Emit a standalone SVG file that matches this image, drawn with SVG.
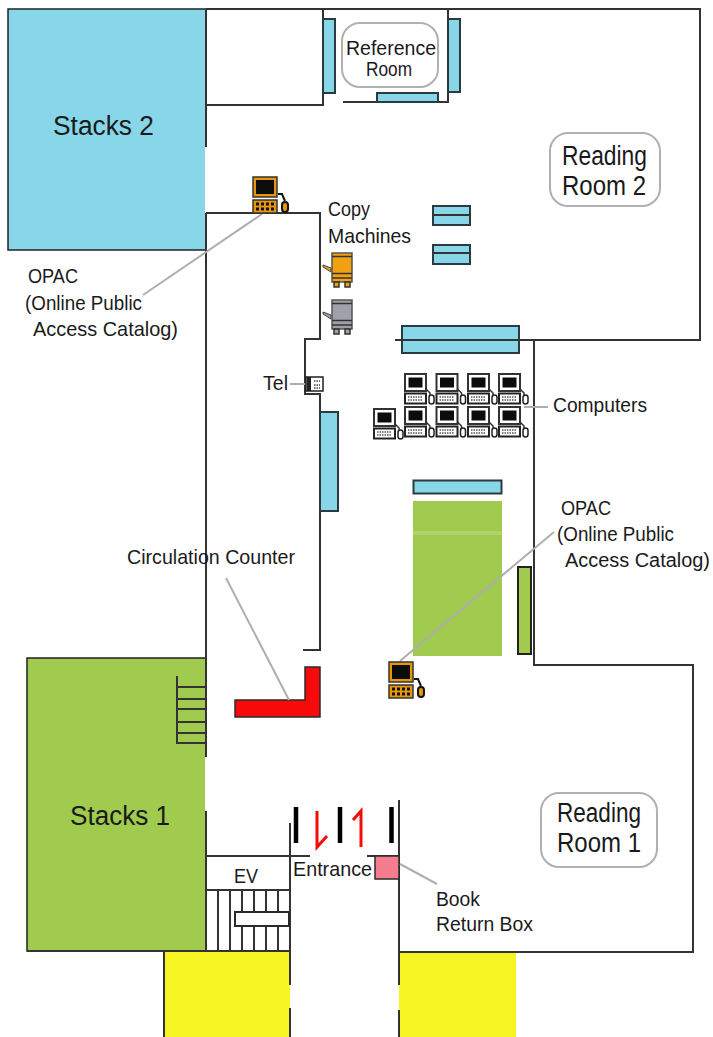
<svg xmlns="http://www.w3.org/2000/svg" xmlns:xlink="http://www.w3.org/1999/xlink" width="713" height="1037" viewBox="0 0 713 1037">
<style>
.w{fill:none;stroke:#333;stroke-width:2}
.b{fill:#87d7e8;stroke:#2b3a40;stroke-width:2}
.g{fill:#a0cb4e}
.y{fill:#f6f523}
.l{fill:none;stroke:#aeaeae;stroke-width:2}
.n{fill:none;stroke:#b0b0b0;stroke-width:2}
text{font-family:"Liberation Sans",Arial,sans-serif;fill:#1a1a1a}
.m{font-size:27px}
.h{font-size:21px}
.a{font-size:20px}
</style>
<defs>
<g id="pcO">
<rect x="1" y="1" width="24" height="20" fill="#e8960c" stroke="#333" stroke-width="1.500"/>
<rect x="4" y="4" width="18" height="14" fill="#0c0c0c"/>
<rect x="1" y="24" width="24" height="13" fill="#e8960c" stroke="#333" stroke-width="1.500"/>
<g fill="#111"><rect x="4" y="26.500" width="3" height="3"/><rect x="9" y="26.500" width="3" height="3"/><rect x="14" y="26.500" width="3" height="3"/><rect x="19" y="26.500" width="3" height="3"/><rect x="4" y="31.500" width="3" height="3"/><rect x="9" y="31.500" width="3" height="3"/><rect x="14" y="31.500" width="3" height="3"/><rect x="19" y="31.500" width="3" height="3"/></g>
<path d="M26 18h4l3 7" fill="none" stroke="#111" stroke-width="2"/>
<rect x="30" y="26" width="6" height="10" rx="3" fill="#e8960c" stroke="#111" stroke-width="2"/>
</g>
<g id="pcW">
<rect x="1" y="1" width="21" height="17" fill="#fff" stroke="#333" stroke-width="2"/>
<rect x="4.500" y="4.500" width="14" height="10" fill="#0c0c0c"/>
<rect x="1" y="20.500" width="21" height="10" fill="#fff" stroke="#222" stroke-width="2"/>
<path d="M4 24h15M4 27h15" stroke="#555" stroke-width="1.500" stroke-dasharray="1.500 1"/>
<path d="M22 16l4 4v2" fill="none" stroke="#333" stroke-width="1.500"/>
<rect x="25" y="22" width="5" height="9" rx="2.500" fill="#fff" stroke="#222" stroke-width="1.500"/>
</g>
<g id="copier">
<path d="M0 13l8 3v4l-8-5z" stroke="#444" stroke-width="1"/>
<rect x="9" y="1" width="20" height="29" stroke="#555" stroke-width="1.500"/>
<path d="M9 4.500h20M9 21.500h20M9 26h20" stroke="#333" stroke-width="1.500" fill="none"/>
<rect x="11" y="30" width="5" height="5" stroke="#333" stroke-width="1.500"/>
<rect x="22" y="30" width="5" height="5" stroke="#333" stroke-width="1.500"/>
</g>
</defs>

<g id="stacks-2"><rect x="8" y="9" width="198" height="241" fill="#87d7e8" stroke="#222" stroke-width="1.500"/><text class="m" x="53" y="135" textLength="101" lengthAdjust="spacingAndGlyphs">Stacks 2</text></g>
<g id="stacks-1"><rect x="27" y="658" width="179" height="293" class="g" stroke="#222" stroke-width="1.500"/><text class="m" x="70" y="825" textLength="100" lengthAdjust="spacingAndGlyphs">Stacks 1</text></g>
<g id="parking-left"><rect x="164" y="951" width="126" height="86" class="y"/></g>
<g id="parking-right"><rect x="399" y="952" width="117" height="85" class="y"/></g>
<g id="white-gaps"><rect x="205" y="147" width="2.500" height="66" fill="#fff"/><rect x="205" y="757" width="2.500" height="54" fill="#fff"/></g>

<g id="walls">
<path class="w" d="M206 9H700V340H534V665H693V952H399"/>
<path class="w" d="M206 9V147M206 213V757M206 811V951"/>
<path class="w" d="M206 105H323V9"/>
<path class="w" d="M448 9V102H343"/>
<path class="w" d="M206 213H320V339H305V394H320V650H303"/>
<path class="w" d="M27 951H290M164 951V1037"/>
<path class="w" d="M290 823V985M290 1008V1037M399 800V985M399 1010V1037"/>
<path class="w" d="M206 856H310M367 856H399M206 890H290"/>
<path class="w" d="M218 890V951M230 890V951M242 890V951M254 890V951M266 890V951M278 890V951"/>
<path class="w" d="M177 676V743H206M177 687H206M177 699H206M177 709H206M177 722H206M177 733H206"/>
<path d="M296 807V843M340 807V843M391.500 807V843" stroke="#000" stroke-width="4.500" fill="none"/>
</g>

<g id="shelves">
<rect class="b" x="323" y="19" width="12" height="74"/>
<rect class="b" x="448" y="19" width="12" height="73"/>
<rect class="b" x="377" y="93" width="61" height="9"/>
<rect class="b" x="433" y="206" width="37" height="19"/><path class="w" d="M433 215H470"/>
<rect class="b" x="433" y="245" width="37" height="19"/><path class="w" d="M433 253H470"/>
<rect class="b" x="402" y="326" width="117" height="27"/><path class="w" d="M395 340H534"/>
<rect class="b" x="320" y="412" width="18" height="99"/>
<rect class="b" x="413.500" y="480.500" width="88" height="13"/>
<rect class="g" x="413" y="501" width="89" height="155"/><path d="M413 533H502" stroke="#b2d26c" stroke-width="4"/>
<rect class="g" x="518" y="567" width="13" height="87" stroke="#222" stroke-width="2"/>
</g>

<g id="reference-room"><rect class="n" x="342" y="23" width="96" height="64" rx="18"/><text class="h" x="346" y="55" textLength="90" lengthAdjust="spacingAndGlyphs">Reference</text><text class="h" x="366" y="76" textLength="46" lengthAdjust="spacingAndGlyphs">Room</text></g>
<g id="reading-room-2"><rect class="n" x="550" y="133" width="110" height="73" rx="18"/><text class="m" x="562" y="165" textLength="85" lengthAdjust="spacingAndGlyphs">Reading</text><text class="m" x="562" y="195" textLength="84" lengthAdjust="spacingAndGlyphs">Room 2</text></g>
<g id="reading-room-1"><rect class="n" x="541" y="793" width="116" height="74" rx="18"/><text class="m" x="557" y="822" textLength="84" lengthAdjust="spacingAndGlyphs">Reading</text><text class="m" x="557" y="852" textLength="84" lengthAdjust="spacingAndGlyphs">Room 1</text></g>

<g id="counter"><path d="M305 667H320V717H235V700H305Z" fill="#f60a0a" stroke="#2b2b2b" stroke-width="1.500"/></g>
<g id="book-return"><rect x="375" y="856" width="24" height="23" fill="#f67d8e" stroke="#2b2b2b" stroke-width="1.500"/></g>
<g id="elevator"><rect x="235" y="912" width="54" height="14" fill="#fff" stroke="#2b2b2b" stroke-width="2"/><text class="h" x="234" y="883" textLength="24" lengthAdjust="spacingAndGlyphs">EV</text></g>

<g id="connectors">
<path class="l" d="M262 214L143 295"/>
<path class="l" d="M226 578L289 700"/>
<path class="l" d="M554 532L400 661"/>
<path class="l" d="M290 384H305"/>
<path class="l" d="M524 407H548"/>
<path class="l" d="M400 864L437 884"/>
<path d="M317 811V847L327 836M361 847V811L353 820" fill="none" stroke="#f60a0a" stroke-width="3"/>
</g>

<g id="opac-1"><use xlink:href="#pcO" x="252" y="176"/></g>
<g id="opac-2"><use xlink:href="#pcO" x="388" y="661"/></g>
<g id="computers">
<use xlink:href="#pcW" x="404" y="373"/><use xlink:href="#pcW" x="435.500" y="373"/><use xlink:href="#pcW" x="467" y="373"/><use xlink:href="#pcW" x="498" y="373"/>
<use xlink:href="#pcW" x="404" y="406"/><use xlink:href="#pcW" x="435.500" y="406"/><use xlink:href="#pcW" x="467" y="406"/><use xlink:href="#pcW" x="498" y="406"/>
<use xlink:href="#pcW" x="373" y="408"/>
</g>
<g id="copier-1"><use xlink:href="#copier" x="323" y="252" fill="#f0a010"/></g>
<g id="copier-2"><use xlink:href="#copier" x="323" y="299" fill="#a0a0a8"/></g>
<g id="tel"><rect x="306" y="377" width="17" height="14" fill="#fff" stroke="#222" stroke-width="1.500"/><rect x="307" y="377" width="4" height="14" fill="#222"/><path d="M314 381h6M314 385h6M314 388h6" stroke="#444" stroke-width="1.500" stroke-dasharray="1.500 1"/></g>

<g id="labels">
<text class="h" x="328" y="216" textLength="42" lengthAdjust="spacingAndGlyphs">Copy</text>
<text class="h" x="328" y="243" textLength="83" lengthAdjust="spacingAndGlyphs">Machines</text>
<text class="h" x="28" y="283" textLength="50" lengthAdjust="spacingAndGlyphs">OPAC</text>
<text class="h" x="25" y="310" textLength="117" lengthAdjust="spacingAndGlyphs">(Online Public</text>
<text class="h" x="33" y="336" textLength="145" lengthAdjust="spacingAndGlyphs">Access Catalog)</text>
<text class="h" x="263" y="390" textLength="25" lengthAdjust="spacingAndGlyphs">Tel</text>
<text class="h" x="553" y="412" textLength="94" lengthAdjust="spacingAndGlyphs">Computers</text>
<text class="h" x="561" y="515" textLength="50" lengthAdjust="spacingAndGlyphs">OPAC</text>
<text class="h" x="557" y="541" textLength="117" lengthAdjust="spacingAndGlyphs">(Online Public</text>
<text class="a" x="565" y="567" textLength="145" lengthAdjust="spacingAndGlyphs">Access Catalog)</text>
<text class="h" x="127" y="564" textLength="168" lengthAdjust="spacingAndGlyphs">Circulation Counter</text>
<text class="h" x="293" y="876" textLength="79" lengthAdjust="spacingAndGlyphs">Entrance</text>
<text class="h" x="436" y="906" textLength="44" lengthAdjust="spacingAndGlyphs">Book</text>
<text class="h" x="436" y="931" textLength="97" lengthAdjust="spacingAndGlyphs">Return Box</text>
</g>
</svg>
